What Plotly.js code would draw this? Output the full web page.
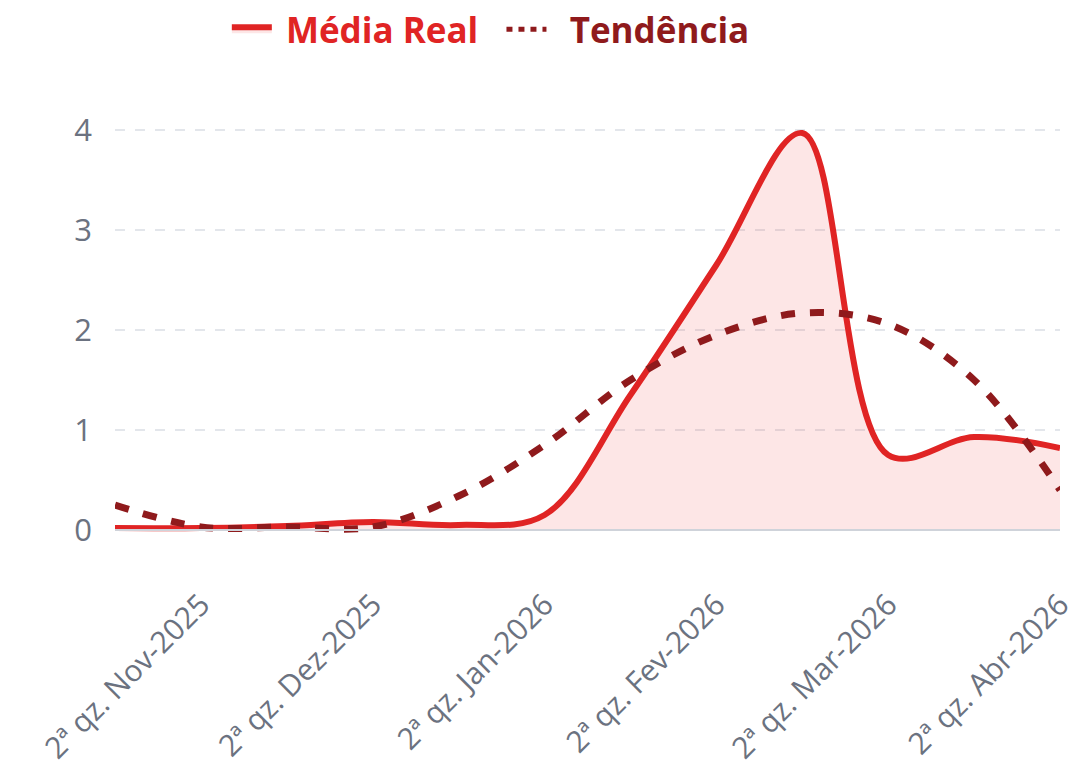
<!DOCTYPE html>
<html>
<head>
<meta charset="utf-8">
<script src="https://cdn.plot.ly/plotly-3.0.1.min.js"></script>
<style>
  html, body { margin: 0; padding: 0; background: #ffffff; }
  #chart { width: 1075px; height: 784px; }
</style>
</head>
<body>
<div id="chart"></div>
<script>
const categories = [
  "1ª qz. Nov-2025", "2ª qz. Nov-2025",
  "1ª qz. Dez-2025", "2ª qz. Dez-2025",
  "1ª qz. Jan-2026", "2ª qz. Jan-2026",
  "1ª qz. Fev-2026", "2ª qz. Fev-2026",
  "1ª qz. Mar-2026", "2ª qz. Mar-2026",
  "1ª qz. Abr-2026", "2ª qz. Abr-2026"
];
const mediaReal = [0.02, 0.02, 0.04, 0.08, 0.05, 0.15, 1.35, 2.65, 3.97, 0.75, 0.93, 0.82];
const tendencia = [0.25, 0.03, 0.03, 0.03, 0.34, 0.85, 1.5, 1.95, 2.17, 2.06, 1.5, 0.4];
const tickLabels = [
  "2ª qz. Nov-2025", "2ª qz. Dez-2025", "2ª qz. Jan-2026",
  "2ª qz. Fev-2026", "2ª qz. Mar-2026", "2ª qz. Abr-2026"
];
const yTicks = [0, 1, 2, 3, 4];
const seriesNames = ["Média Real", "Tendência"];

const RED = '#e02424';
const DARK = '#8f1a1c';
const GRAY = '#6b7280';
const NB = '\u00a0';

const traces = [
  {
    type: 'scatter', mode: 'lines',
    x: categories, y: mediaReal,
    name: NB + '<span style="color:' + RED + '"><b>' + seriesNames[0] + '</b></span>' + NB + NB,
    line: { color: RED, width: 6, shape: 'spline', smoothing: 1 },
    fill: 'tozeroy', fillcolor: 'rgba(240, 60, 60, 0.13)',
    hoverinfo: 'skip'
  },
  {
    type: 'scatter', mode: 'lines',
    x: categories, y: tendencia,
    name: seriesNames[1],
    showlegend: false,
    line: { color: DARK, width: 7, shape: 'spline', smoothing: 1, dash: '14px,15px' },
    hoverinfo: 'skip'
  },
  {
    type: 'scatter', mode: 'lines',
    x: [null], y: [null],
    name: NB + NB + '<span style="color:' + DARK + '"><b>' + seriesNames[1] + '</b></span>',
    line: { color: DARK, width: 5, dash: '6px,6px' },
    hoverinfo: 'skip'
  }
];

const layout = {
  width: 1075, height: 784,
  paper_bgcolor: '#ffffff', plot_bgcolor: '#ffffff',
  margin: { l: 115, r: 15, t: 100, b: 204, pad: 0 },
  font: { family: 'Open Sans, Lato, sans-serif', color: GRAY, size: 30 },
  showlegend: true,
  legend: {
    orientation: 'h',
    xref: 'container', yref: 'container',
    x: 0.211, xanchor: 'left',
    y: 1.0, yanchor: 'top',
    font: { size: 35, family: 'Open Sans, sans-serif' },
    itemwidth: 40,
    bgcolor: 'rgba(0,0,0,0)'
  },
  xaxis: {
    type: 'category',
    categoryorder: 'array', categoryarray: categories,
    range: [0, 11],
    tickmode: 'array', tickvals: tickLabels, ticktext: tickLabels,
    tickangle: -45,
    tickfont: { size: 30, color: GRAY },
    showgrid: false, zeroline: false, showline: false,
    ticks: '', fixedrange: true
  },
  yaxis: {
    range: [-0.5, 4.3],
    tickmode: 'array', tickvals: yTicks,
    tickfont: { size: 31, color: GRAY },
    ticklabelstandoff: 22,
    showgrid: true, gridcolor: '#e3e6eb', gridwidth: 2, griddash: '10px,10px',
    zeroline: false, showline: false, ticks: '', fixedrange: true
  },
  shapes: [
    { type: 'line', xref: 'paper', yref: 'y', x0: 0, x1: 1, y0: 0, y1: 0,
      layer: 'above', line: { color: '#cfd3da', width: 2 } }
  ]
};

Plotly.newPlot('chart', traces, layout, { displayModeBar: false, staticPlot: true });
</script>
</body>
</html>
